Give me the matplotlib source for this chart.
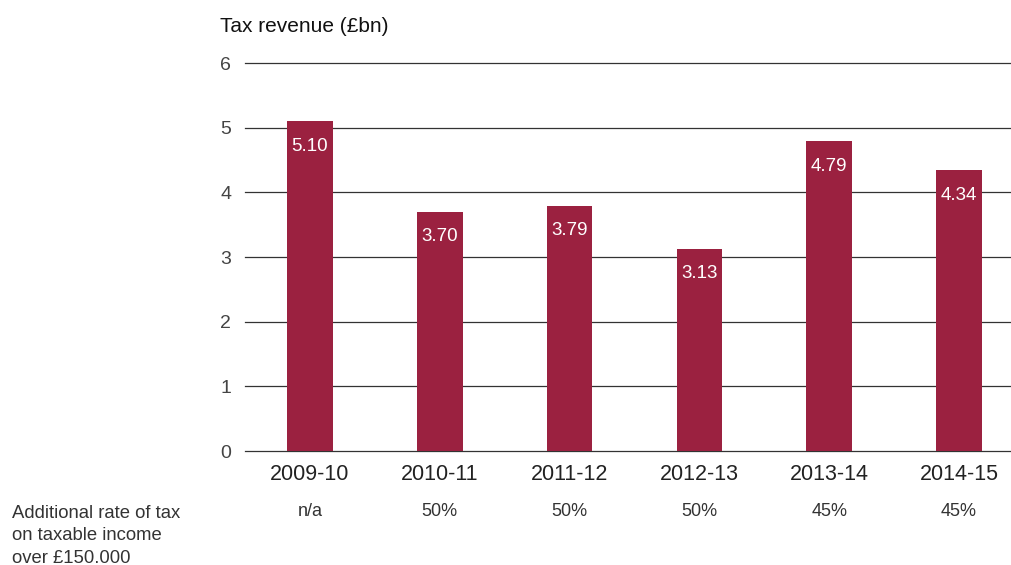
import matplotlib.pyplot as plt
import matplotlib.transforms as mtransforms
import numpy as np

plt.rcParams['font.family'] = ['Liberation Sans', 'DejaVu Sans']

years = ["2009-10", "2010-11", "2011-12", "2012-13", "2013-14", "2014-15"]
revenue = [5.10, 3.70, 3.79, 3.13, 4.79, 4.34]
add_rate = ["n/a", "50%", "50%", "50%", "45%", "45%"]
side_note = ["Additional rate of tax", "on taxable income", "over £150.000"]

bar_color = "#9b2140"

fig = plt.figure(figsize=(10.12, 5.65), dpi=100)
ax = fig.add_axes([245/1012, 1 - 451/565, 765/1012, 388/565])

x = np.arange(len(years))
ax.bar(x, revenue, width=0.352, color=bar_color, zorder=3)

for xi, v in zip(x, revenue):
    ax.annotate(f"{v:.2f}", (xi, v), xytext=(0, -18), textcoords="offset points",
                ha="center", va="center", color="white", fontsize=13.5, zorder=4)

ax.set_ylim(0, 6)
ax.set_xlim(-0.5, 5.393)
ax.set_yticks(range(0, 7))
for gl in range(0, 7):
    ax.axhline(gl, color="#333333", linewidth=0.9, zorder=1, clip_on=False)
for s in ax.spines.values():
    s.set_visible(False)
ax.tick_params(axis="both", length=0)
ax.tick_params(axis="y", pad=10, labelsize=14, labelcolor="#444444")
ax.tick_params(axis="x", pad=9, labelsize=15.5, labelcolor="#222222")
ax.set_xticks(x)
ax.set_xticklabels(years)

fig.text(220/1012, 1 - 27/565, "Tax revenue (£bn)", fontsize=15, color="#111111",
         ha="left", va="center")

trans = mtransforms.blended_transform_factory(ax.transData, fig.transFigure)
for xi, r in zip(x, add_rate):
    ax.text(xi, 1 - 512/565, r, transform=trans, ha="center", va="center",
            fontsize=13, color="#333333")

for i, line in enumerate(side_note):
    fig.text(12/1012, 1 - (518 + 22.5*i)/565, line, fontsize=13.3, color="#333333",
             ha="left", va="baseline")

fig.savefig("out.png", dpi=100)
